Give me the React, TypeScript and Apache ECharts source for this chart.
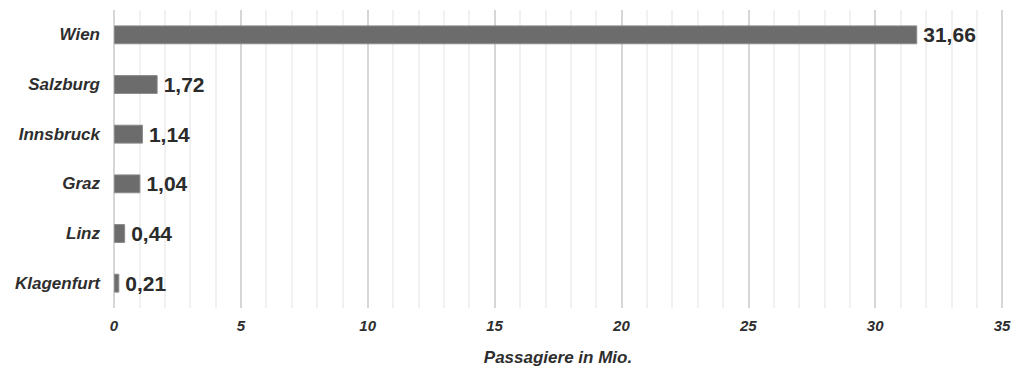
import React, { useEffect, useRef } from "react";
import * as echarts from "echarts";

// Airports (top to bottom) and passengers in millions
const airports = ["Wien", "Salzburg", "Innsbruck", "Graz", "Linz", "Klagenfurt"];
const passengers = [31.66, 1.72, 1.14, 1.04, 0.44, 0.21];
const axisTitle = "Passagiere in Mio.";

const fmt = (v: number) => v.toFixed(2).replace(".", ",");

export default function App() {
  const ref = useRef<HTMLDivElement>(null);

  useEffect(() => {
    if (!ref.current) return;
    const chart = echarts.init(ref.current, undefined, { renderer: "svg" });
    chart.setOption({
      animation: false,
      backgroundColor: "#ffffff",
      grid: { left: 114, right: 15, top: 10, bottom: 58 },
      xAxis: {
        type: "value",
        min: 0,
        max: 35,
        interval: 5,
        name: axisTitle,
        nameLocation: "middle",
        nameGap: 41,
        nameTextStyle: {
          fontFamily: "Liberation Sans",
          fontWeight: "bold",
          fontStyle: "italic",
          fontSize: 17,
          color: "#2e2e2e",
        },
        axisLine: { show: false },
        axisTick: { show: false },
        axisLabel: {
          margin: 10,
          fontFamily: "Liberation Sans",
          fontWeight: "bold",
          fontStyle: "italic",
          fontSize: 15,
          color: "#2e2e2e",
        },
        splitLine: { show: true, lineStyle: { color: "#c8c8c8", width: 1.5 } },
        minorTick: { show: false, splitNumber: 5 },
        minorSplitLine: { show: true, lineStyle: { color: "#ececec", width: 1.5 } },
      },
      yAxis: {
        type: "category",
        data: airports,
        inverse: true,
        axisLine: { show: false },
        axisTick: { show: false },
        axisLabel: {
          margin: 14,
          fontFamily: "Liberation Sans",
          fontWeight: "bold",
          fontStyle: "italic",
          fontSize: 17,
          color: "#2e2e2e",
        },
      },
      series: [
        {
          type: "bar",
          data: passengers,
          barCategoryGap: "62%",
          itemStyle: { color: "#6c6c6c", borderColor: "#8a8a8a", borderWidth: 1 },
          label: {
            show: true,
            position: "right",
            distance: 6,
            formatter: (p: any) => fmt(p.value),
            fontFamily: "Liberation Sans",
            fontWeight: "bold",
            fontSize: 21,
            color: "#2b2b2b",
          },
        },
      ],
    });
    return () => chart.dispose();
  }, []);

  return (
    <div
      ref={ref}
      style={{ position: "fixed", left: 0, top: 0, width: 1017, height: 371 }}
    />
  );
}
